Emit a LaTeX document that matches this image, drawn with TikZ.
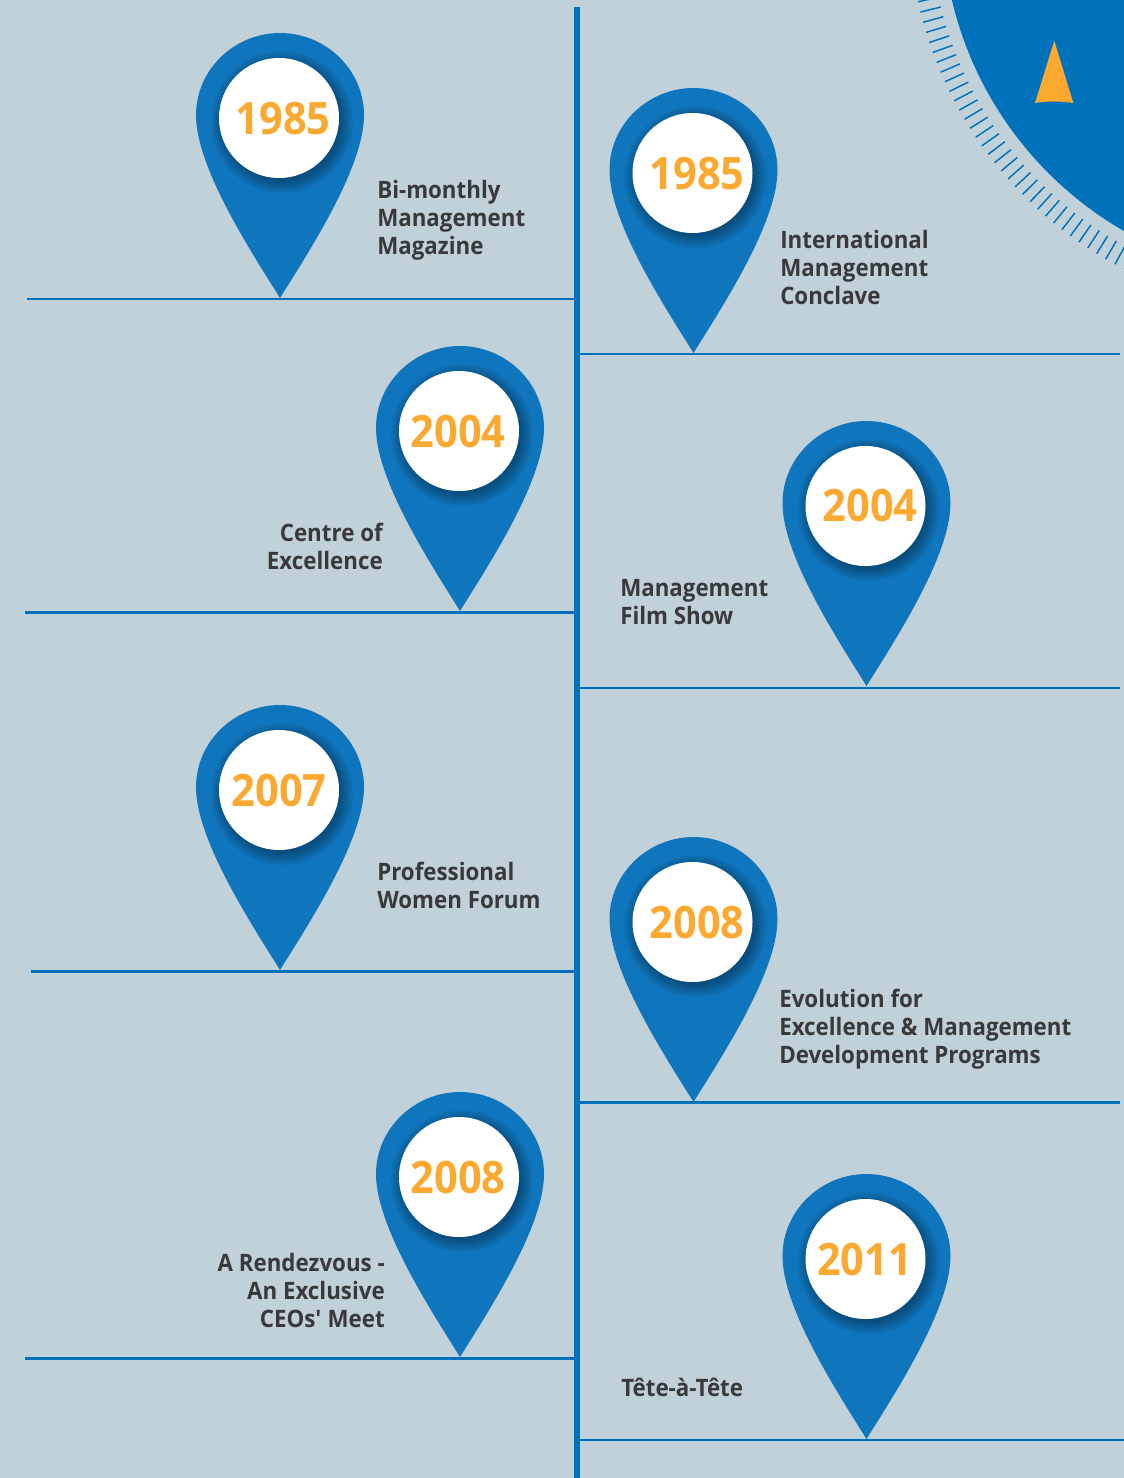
\documentclass[tikz,border=0pt]{standalone}
\usepackage{fontspec}
\setmainfont{Open Sans}[BoldFeatures={FakeStretch=0.93}]
\definecolor{bgc}{HTML}{C1D1DA}
\definecolor{pinblue}{HTML}{0F75BC}
\definecolor{lineblue}{HTML}{0072BC}
\definecolor{yearc}{HTML}{FBA931}
\definecolor{textc}{HTML}{39393B}
\tikzset{
  lbl/.style={text=textc,inner sep=0pt,font=\fontsize{18}{21}\selectfont\bfseries},
  year/.style={text=yearc,inner sep=0pt,font=\fontsize{33.5}{33.5}\selectfont\bfseries,anchor=base},
  hline/.style={draw=lineblue,line width=2pt},
  disc/.style={circle,fill=white,minimum size=90pt,inner sep=0pt},
}
\newcommand{\st}{\rule{0pt}{15pt}}
\newcommand{\pinpath}[2]{(#1,#2) .. controls (#1-28,#2-45) and (#1-84,#2-130) .. (#1-84,#2-183)
  .. controls (#1-84,#2-228) and (#1-46,#2-265) .. (#1,#2-265)
  .. controls (#1+46,#2-265) and (#1+84,#2-228) .. (#1+84,#2-183)
  .. controls (#1+84,#2-130) and (#1+28,#2-45) .. (#1,#2) -- cycle}
% #1 name, #2 tip x, #3 tip y, #4 year, #5 year x, #6 year baseline y
\newcommand{\pinmark}[6]{
  \fill[pinblue] \pinpath{#2}{#3};
  \begin{scope}
    \clip \pinpath{#2}{#3};
    \foreach \rr in {71,69,...,59}{
      \fill[black,opacity=0.05] (#2+2,#3-176) circle (\rr);
    }
  \end{scope}
  \node[disc] (#1) at (#2-1,#3-180) {};
  \node[year] (#1y) at (#5,#6) {#4};
}
\begin{document}
\begin{tikzpicture}[x=0.75pt,y=-0.75pt]
\useasboundingbox (0,0) rectangle (1124,1478);
\fill[bgc] (0,0) rectangle (1124,1478);
% compass
\begin{scope}
  \clip (0,0) rectangle (1124,1478);
  \fill[lineblue] (1304.8,-83.2) circle (362.5);
  \foreach \k in {0,...,38}{
    \pgfmathsetmacro{\t}{7.8+1.53*\k}
    \draw[lineblue,line width=1.1pt]
      ({1304.8-375*cos(\t)},{-83.2+375*sin(\t)}) -- ({1304.8-396*cos(\t)},{-83.2+396*sin(\t)});
  }
\end{scope}
\fill[yearc] (1054.3,40.7) -- (1073.3,103) .. controls (1060,101) and (1048,101) .. (1035,103) -- cycle;
% axis and rules
\coordinate (axT) at (577,7);
\coordinate (axB) at (577,1478);
\draw[lineblue,line width=3.9pt] (axT) -- (axB);
\foreach \yy/\xa/\xb in {299/27/575,612.4/25/575,971.4/31/575,1358.4/25/575,354/579/1120,688/579/1120,1102.4/579/1120,1440/579/1124}{
  \draw[hline] (\xa,\yy) -- (\xb,\yy);
}
\pinmark{p1}{280}{298}{1985}{283}{134}
\pinmark{p2}{693.5}{353}{1985}{697}{189}
\pinmark{p3}{460}{611}{2004}{458}{447}
\pinmark{p4}{866.5}{686}{2004}{870}{521}
\pinmark{p5}{280}{970}{2007}{279}{806}
\pinmark{p6}{693.5}{1102}{2008}{697}{938}
\pinmark{p7}{460}{1357}{2008}{458}{1193}
\pinmark{p8}{866.5}{1439}{2011}{864.5}{1275}
% labels
\node[lbl,align=left,anchor=north west] (t1) at (377,178.5) {\st Bi-monthly\\Management\\Magazine};
\node[lbl,align=left,anchor=north west] (t2) at (780,228) {\st International\\Management\\Conclave};
\node[lbl,align=right,anchor=north east] (t3) at (383,521) {\st Centre of\\Excellence};
\node[lbl,align=left,anchor=north west] (t4) at (620,576) {\st Management\\Film Show};
\node[lbl,align=left,anchor=north west] (t5) at (377,860) {\st Professional\\Women Forum};
\node[lbl,align=left,anchor=north west] (t6) at (779,987) {\st Evolution for\\Excellence \& Management\\Development Programs};
\node[lbl,align=right,anchor=north east] (t7) at (385,1251) {\st A Rendezvous -\\An Exclusive\\CEOs\textquotesingle{} Meet};
\node[lbl,align=left,anchor=north west] (t8) at (621,1376) {\st Tête-à-Tête};
\end{tikzpicture}
\end{document}
